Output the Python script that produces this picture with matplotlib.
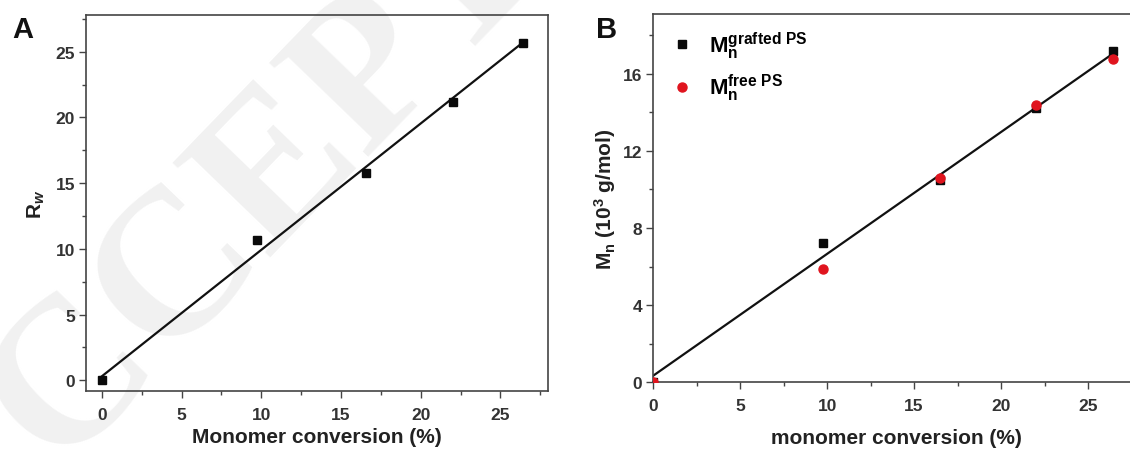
import matplotlib
matplotlib.use('Agg')
from matplotlib import pyplot as plt
from matplotlib.ticker import MultipleLocator

plt.rcParams['font.family'] = ['Liberation Sans', 'DejaVu Sans']
plt.rcParams['font.weight'] = 'bold'
plt.rcParams['mathtext.fontset'] = 'custom'
plt.rcParams['mathtext.rm'] = 'Liberation Sans'
plt.rcParams['mathtext.bf'] = 'Liberation Sans:bold'
plt.rcParams['mathtext.it'] = 'Liberation Sans:italic'

# panel A: Rw vs monomer conversion
conv_a = [0, 9.7, 16.6, 22.0, 26.4]
rw = [0.05, 10.7, 15.8, 21.2, 25.7]
fit_x_a = [0, 26.4]
fit_y_a = [0.3, 25.7]

# panel B: Mn (10^3 g/mol) vs monomer conversion
conv_b = [0, 9.75, 16.5, 22.0, 26.45]
mn_grafted = [0, 7.2, 10.5, 14.2, 17.2]
mn_free = [0, 5.85, 10.6, 14.4, 16.75]
fit_x_b = [0, 26.45]
fit_y_b = [0.34, 17.05]

spine_col = '#444444'
tick_col = '#333333'

fig = plt.figure(figsize=(11.3, 4.52), dpi=100)

# faint watermark behind both panels
fig.text(-0.04, -0.29, 'ACCEPTED', family=['Liberation Serif', 'DejaVu Serif'],
         fontsize=150, color='#f1f1f1', rotation=46, rotation_mode='anchor',
         ha='left', va='baseline', zorder=-1)

axA = fig.add_axes([0.0761, 0.132, 0.409, 0.8325])
axB = fig.add_axes([0.578, 0.152, 0.431, 0.815])

for ax in (axA, axB):
    ax.patch.set_alpha(0)
    for s in ax.spines.values():
        s.set_color(spine_col)
        s.set_linewidth(1.2)
    ax.tick_params(which='both', direction='out', colors=spine_col, labelcolor=tick_col,
                   labelsize=12.5, width=1.0)
    ax.tick_params(which='major', length=5)
    ax.tick_params(which='minor', length=3)
    ax.tick_params(axis='x', pad=6)
    ax.tick_params(axis='y', pad=3)

axA.plot(fit_x_a, fit_y_a, color='#111111', lw=1.6, zorder=2)
axA.plot(conv_a, rw, 's', color='#0a0a0a', ms=6, zorder=3, clip_on=False)
axA.set_xlim(-1, 28)
axA.set_ylim(-0.85, 27.8)
axA.xaxis.set_major_locator(MultipleLocator(5))
axA.xaxis.set_minor_locator(MultipleLocator(2.5))
axA.yaxis.set_major_locator(MultipleLocator(5))
axA.yaxis.set_minor_locator(MultipleLocator(2.5))
axA.set_xlabel('Monomer conversion (%)', fontsize=15, fontweight='bold', color='#222222', labelpad=4)
axA.set_ylabel(r'$\mathrm{R}_{w}$', fontsize=15, color='#222222', labelpad=6)

axB.plot(fit_x_b, fit_y_b, color='#111111', lw=1.6, zorder=2)
axB.plot(conv_b, mn_grafted, 's', color='#0a0a0a', ms=6, zorder=3,
         label=r'$\mathbf{M}_{\mathrm{n}}^{\mathrm{grafted\ PS}}$')
axB.plot(conv_b, mn_free, 'o', color='#e0141e', ms=6.5, zorder=3,
         label=r'$\mathbf{M}_{\mathrm{n}}^{\mathrm{free\ PS}}$')
axB.set_xlim(0, 28)
axB.set_ylim(0, 19.1)
axB.xaxis.set_major_locator(MultipleLocator(5))
axB.xaxis.set_minor_locator(MultipleLocator(2.5))
axB.yaxis.set_major_locator(MultipleLocator(4))
axB.yaxis.set_minor_locator(MultipleLocator(2))
axB.set_xlabel('monomer conversion (%)', fontsize=15, fontweight='bold', color='#222222', labelpad=11)
axB.set_ylabel(r'$\mathbf{M_n}$ (10$^{3}$ g/mol)', fontsize=15, fontweight='bold',
               color='#222222', labelpad=3)
axB.legend(loc='upper left', bbox_to_anchor=(0.0, 1.0), frameon=False, fontsize=16,
           handletextpad=0.6, handlelength=1.2, labelspacing=0.5, borderaxespad=0.3)

fig.text(0.011, 0.915, 'A', fontsize=21, fontweight='bold', color='#111111')
fig.text(0.527, 0.915, 'B', fontsize=21, fontweight='bold', color='#111111')

plt.savefig('out.png', dpi=100)
